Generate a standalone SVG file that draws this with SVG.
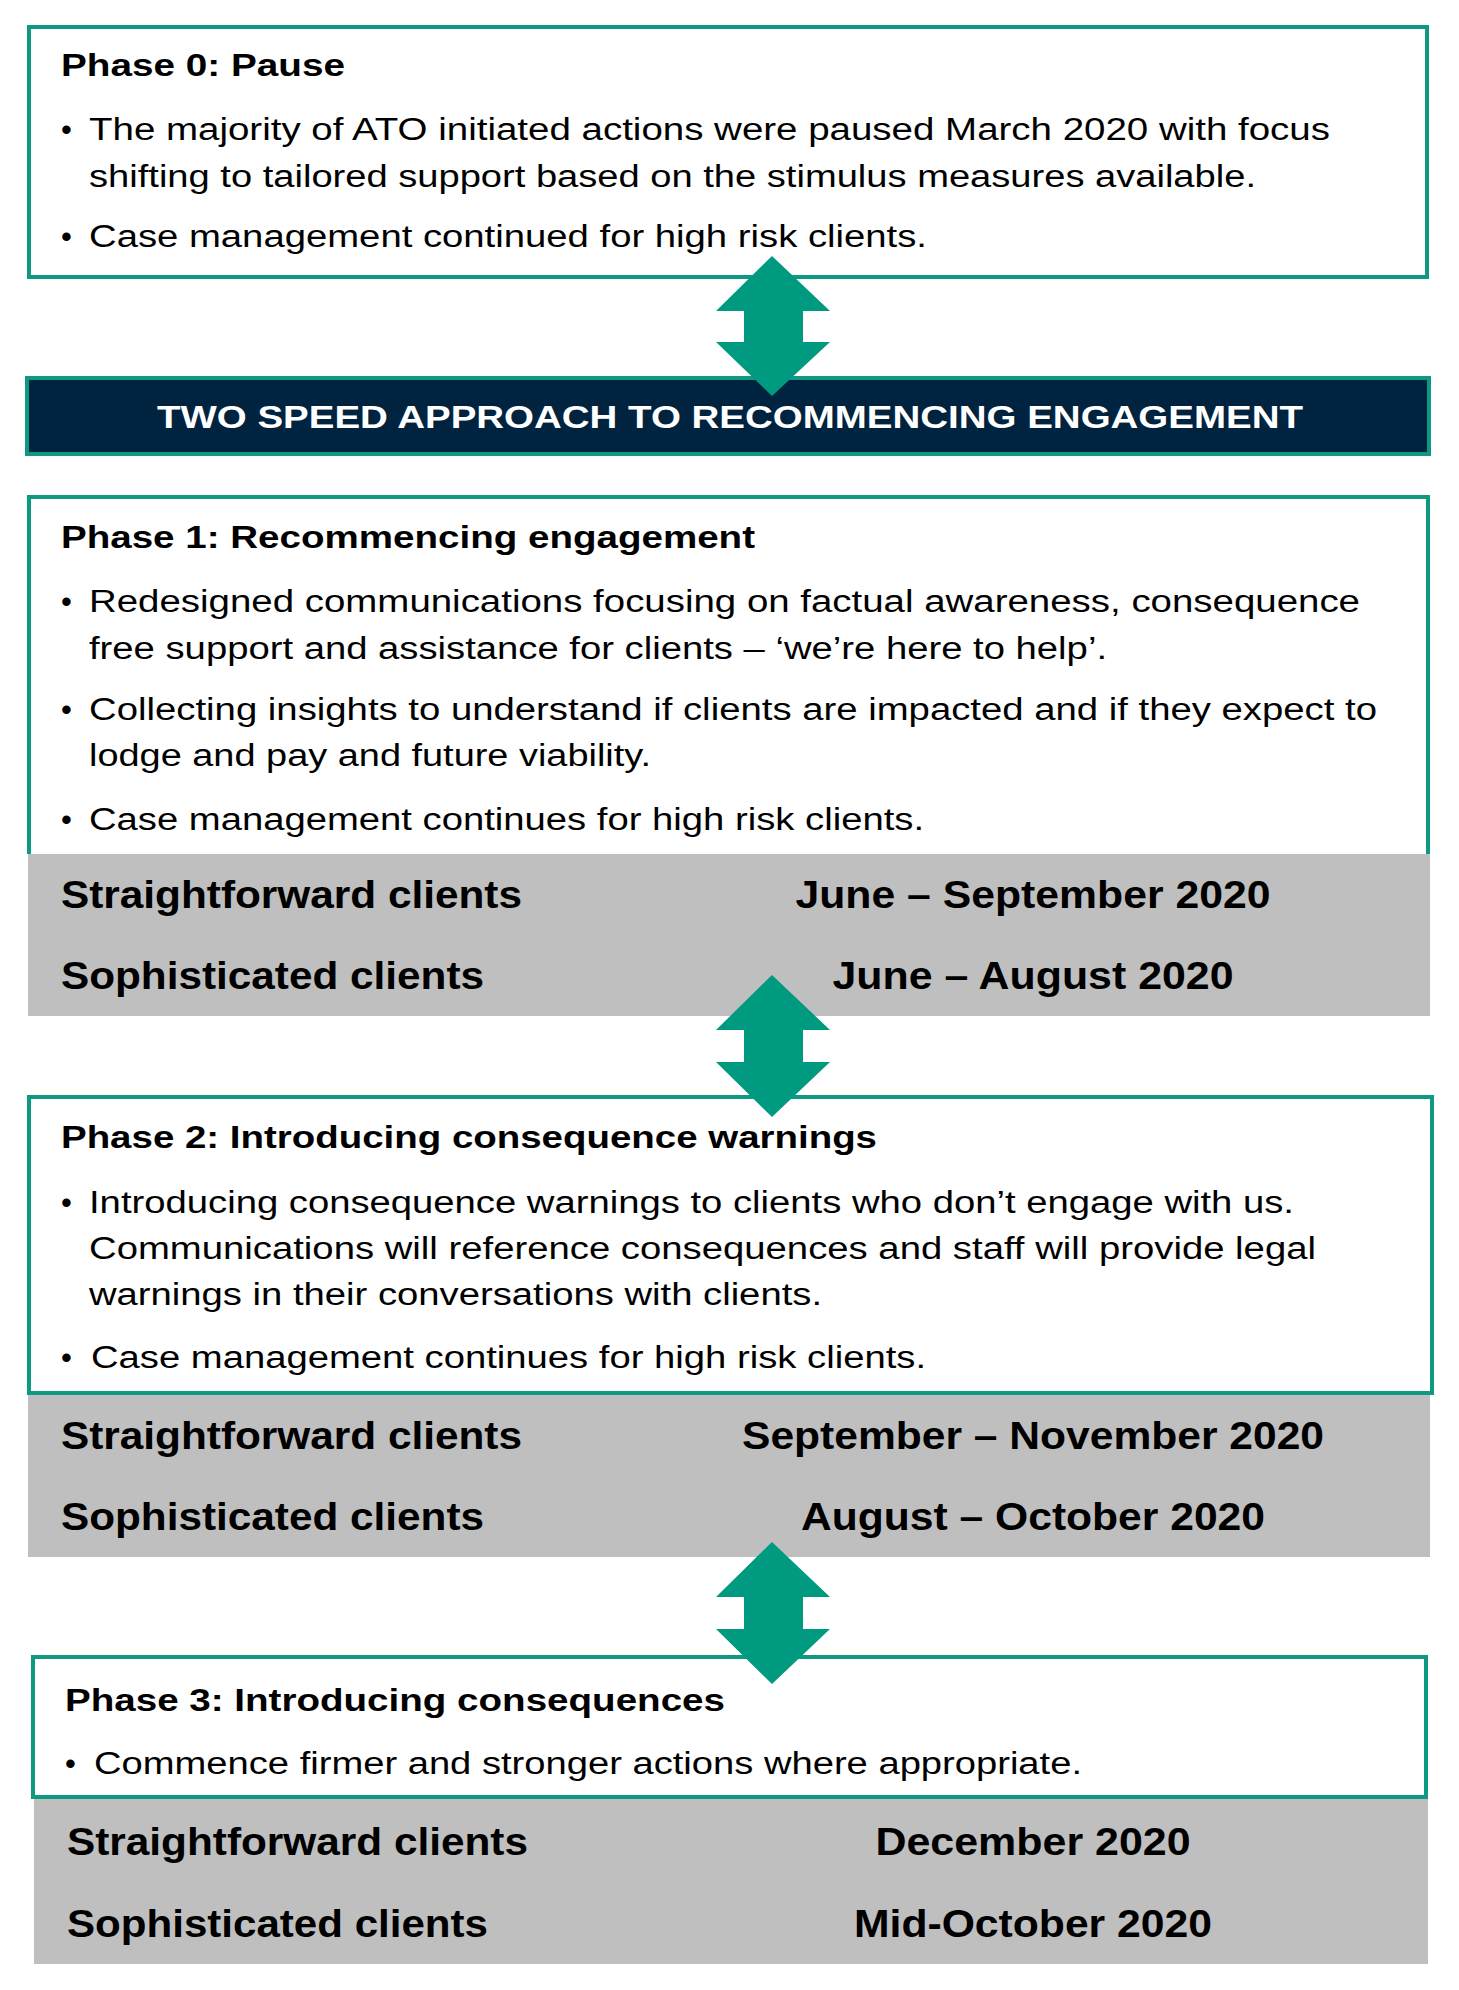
<svg xmlns="http://www.w3.org/2000/svg" width="1459" height="1990" viewBox="0 0 1459 1990">
<style>
.box{fill:#fff;stroke:#0e9a82;stroke-width:4}
.gray{fill:#bfbfbf}
.t{font-family:"Liberation Sans",Arial,sans-serif;fill:#000}
.h{font-size:31px;font-weight:bold}
.b{font-size:31px}
.r{font-size:38px;font-weight:bold}
.d{font-size:38px;font-weight:bold;text-anchor:middle}
.arr{fill:#009a80}
</style>
<rect width="1459" height="1990" fill="#fff"/>
<g id="phase0">
<rect class="box" x="29" y="27" width="1398" height="250"/>
<text class="t h" x="61" y="76" textLength="284" lengthAdjust="spacingAndGlyphs">Phase 0: Pause</text>
<text class="t b" x="61" y="140">•</text><text class="t b" x="89" y="140" textLength="1241" lengthAdjust="spacingAndGlyphs">The majority of ATO initiated actions were paused March 2020 with focus</text>
<text class="t b" x="89" y="187" textLength="1167" lengthAdjust="spacingAndGlyphs">shifting to tailored support based on the stimulus measures available.</text>
<text class="t b" x="61" y="247">•</text><text class="t b" x="89" y="247" textLength="838" lengthAdjust="spacingAndGlyphs">Case management continued for high risk clients.</text>
</g>
<g id="banner">
<rect x="27" y="378" width="1402" height="76" fill="#002340" stroke="#0e9a82" stroke-width="4"/>
<text class="t" x="730" y="428" text-anchor="middle" font-size="31" font-weight="bold" textLength="1146" lengthAdjust="spacingAndGlyphs" style="fill:#fff">TWO SPEED APPROACH TO RECOMMENCING ENGAGEMENT</text>
</g>
<g id="phase1">
<rect class="gray" x="28" y="854" width="1402" height="162"/>
<path d="M29,854 V497 H1428 V854" fill="#fff" stroke="#0e9a82" stroke-width="4"/>
<text class="t h" x="61" y="548" textLength="694" lengthAdjust="spacingAndGlyphs">Phase 1: Recommencing engagement</text>
<text class="t b" x="61" y="612">•</text><text class="t b" x="89" y="612" textLength="1271" lengthAdjust="spacingAndGlyphs">Redesigned communications focusing on factual awareness, consequence</text>
<text class="t b" x="89" y="659" textLength="1018" lengthAdjust="spacingAndGlyphs">free support and assistance for clients – ‘we’re here to help’.</text>
<text class="t b" x="61" y="720">•</text><text class="t b" x="89" y="720" textLength="1288" lengthAdjust="spacingAndGlyphs">Collecting insights to understand if clients are impacted and if they expect to</text>
<text class="t b" x="89" y="766" textLength="562" lengthAdjust="spacingAndGlyphs">lodge and pay and future viability.</text>
<text class="t b" x="61" y="830">•</text><text class="t b" x="89" y="830" textLength="835" lengthAdjust="spacingAndGlyphs">Case management continues for high risk clients.</text>
<text class="t r" x="61" y="908" textLength="461" lengthAdjust="spacingAndGlyphs">Straightforward clients</text>
<text class="t d" x="1033" y="908" textLength="475" lengthAdjust="spacingAndGlyphs">June – September 2020</text>
<text class="t r" x="61" y="989" textLength="423" lengthAdjust="spacingAndGlyphs">Sophisticated clients</text>
<text class="t d" x="1033" y="989" textLength="401" lengthAdjust="spacingAndGlyphs">June – August 2020</text>
</g>
<g id="phase2">
<rect class="gray" x="28" y="1393" width="1402" height="164"/>
<rect class="box" x="29" y="1097" width="1403" height="296"/>
<text class="t h" x="61" y="1148" textLength="816" lengthAdjust="spacingAndGlyphs">Phase 2: Introducing consequence warnings</text>
<text class="t b" x="61" y="1213">•</text><text class="t b" x="89" y="1213" textLength="1205" lengthAdjust="spacingAndGlyphs">Introducing consequence warnings to clients who don’t engage with us.</text>
<text class="t b" x="89" y="1259" textLength="1227" lengthAdjust="spacingAndGlyphs">Communications will reference consequences and staff will provide legal</text>
<text class="t b" x="89" y="1305" textLength="733" lengthAdjust="spacingAndGlyphs">warnings in their conversations with clients.</text>
<text class="t b" x="61" y="1368">•</text><text class="t b" x="91" y="1368" textLength="835" lengthAdjust="spacingAndGlyphs">Case management continues for high risk clients.</text>
<text class="t r" x="61" y="1449" textLength="461" lengthAdjust="spacingAndGlyphs">Straightforward clients</text>
<text class="t d" x="1033" y="1449" textLength="582" lengthAdjust="spacingAndGlyphs">September – November 2020</text>
<text class="t r" x="61" y="1530" textLength="423" lengthAdjust="spacingAndGlyphs">Sophisticated clients</text>
<text class="t d" x="1033" y="1530" textLength="464" lengthAdjust="spacingAndGlyphs">August – October 2020</text>
</g>
<g id="phase3">
<rect class="gray" x="34" y="1797" width="1394" height="167"/>
<rect class="box" x="33" y="1657" width="1393" height="140"/>
<text class="t h" x="65" y="1711" textLength="660" lengthAdjust="spacingAndGlyphs">Phase 3: Introducing consequences</text>
<text class="t b" x="65" y="1774">•</text><text class="t b" x="94" y="1774" textLength="988" lengthAdjust="spacingAndGlyphs">Commence firmer and stronger actions where appropriate.</text>
<text class="t r" x="67" y="1855" textLength="461" lengthAdjust="spacingAndGlyphs">Straightforward clients</text>
<text class="t d" x="1033" y="1855" textLength="315" lengthAdjust="spacingAndGlyphs">December 2020</text>
<text class="t r" x="67" y="1937" textLength="421" lengthAdjust="spacingAndGlyphs">Sophisticated clients</text>
<text class="t d" x="1033" y="1937" textLength="358" lengthAdjust="spacingAndGlyphs">Mid-October 2020</text>
</g>
<g id="connectors">
<path class="arr" d="M772,256 L830,311 H803 V342 H830 L772,396 L716,342 H744 V311 H716 Z"/>
<path class="arr" d="M772,975 L830,1030 H803 V1062 H830 L772,1117 L716,1062 H744 V1030 H716 Z"/>
<path class="arr" d="M772,1542 L830,1597 H803 V1629 H830 L772,1684 L716,1629 H744 V1597 H716 Z"/>
</g>
</svg>
